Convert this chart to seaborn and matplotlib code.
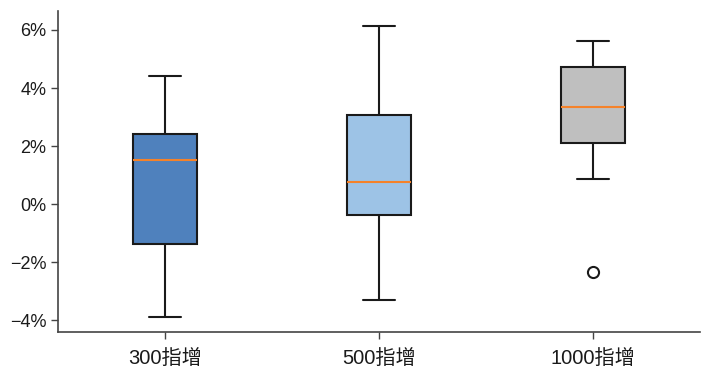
import matplotlib
matplotlib.use("Agg")
import matplotlib.pyplot as plt
import matplotlib.ticker as mticker
import seaborn as sns
import pandas as pd

# Categories and values (in %).
# Each group: 9 observations whose quartiles / whiskers reproduce the box.
categories = ["300指增", "500指增", "1000指增"]
values_300 = [-3.91, -3.91, -1.36, -1.36, 1.51, 2.41, 2.41, 4.42, 4.42]
values_500 = [-3.31, -3.31, -0.38, -0.38, 0.77, 3.07, 3.07, 6.15, 6.15]
values_1000 = [-2.33, 0.86, 2.10, 2.10, 3.34, 4.74, 4.74, 5.62, 5.62]
box_colors = ["#4F81BD", "#9DC3E6", "#BFBFBF"]
y_ticks = [-4, -2, 0, 2, 4, 6]

sns.set_style("ticks")
plt.rcParams["font.family"] = ["Liberation Sans", "Noto Sans CJK SC", "DejaVu Sans"]
plt.rcParams["axes.unicode_minus"] = True

rows = []
for cat, vals in zip(categories, [values_300, values_500, values_1000]):
    for v in vals:
        rows.append({"group": cat, "value": v})
df = pd.DataFrame(rows)

fig = plt.figure(figsize=(7.02, 3.75), dpi=100)
ax = fig.add_axes([0.0826, 0.1147, 0.9144, 0.856])

sns.boxplot(
    data=df, x="group", y="value", hue="group", order=categories,
    hue_order=categories, palette=box_colors, legend=False,
    width=0.3, whis=1.5, linecolor="#1a1a1a", linewidth=1.5, saturation=1,
    medianprops={"color": "#F5822A", "linewidth": 1.5},
    flierprops={"marker": "o", "markerfacecolor": "none",
                "markeredgecolor": "#1a1a1a", "markersize": 8,
                "markeredgewidth": 1.5},
    ax=ax,
)

ax.set_xlim(-0.5, 2.5)
ax.set_ylim(-4.41, 6.655)
ax.set_yticks(y_ticks)
ax.yaxis.set_major_formatter(mticker.FuncFormatter(
    lambda v, p: ("\u2212" if v < 0 else "") + f"{abs(v):.0f}%"))
ax.set_xlabel("")
ax.set_ylabel("")
sns.despine(ax=ax)
for s in ["left", "bottom"]:
    ax.spines[s].set_color("#444444")
    ax.spines[s].set_linewidth(1.2)
ax.tick_params(axis="both", colors="#444444", labelcolor="#1a1a1a",
               length=5, width=1)
ax.tick_params(axis="y", labelsize=13)
ax.tick_params(axis="x", labelsize=14.5, pad=7)

fig.savefig("out.png", dpi=100)
